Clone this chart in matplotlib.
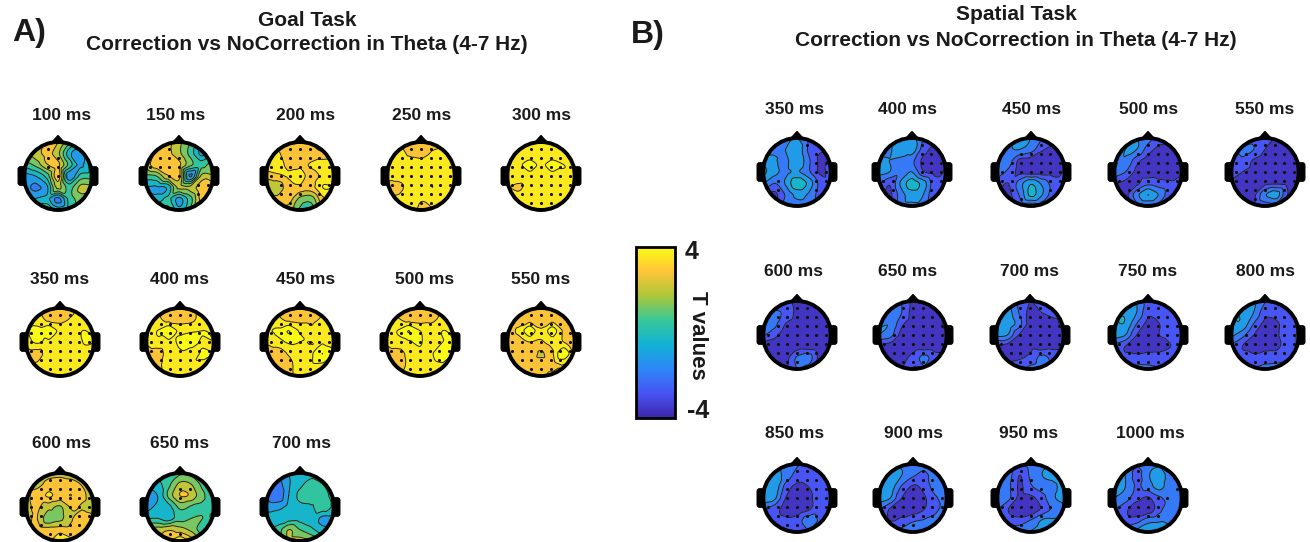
# plot.py
# Topographic T value maps for the goal task and the spatial task.

import numpy as np
import matplotlib
matplotlib.use('Agg')
import matplotlib.pyplot as plt
import matplotlib.tri as mtri
from matplotlib.cm import ScalarMappable
from matplotlib.colors import LinearSegmentedColormap, Normalize
from matplotlib.patches import Circle, FancyBboxPatch, Polygon

plt.rcParams['font.family'] = ['Liberation Sans', 'DejaVu Sans']
plt.rcParams['font.weight'] = 'bold'

W, H = 1310, 542

# T values on a 7x7 grid, top row first, left to right.
goal_100 = [[.5,1.8,2.6,2.4,1,.5,.5],[1.2,2,2.6,1.8,-.5,-1.4,.2],[.3,1,2.3,2.6,.5,-1,.5],[-1.2,-.8,.3,2.8,-1.4,.3,.5],[-1.2,-1.8,-1,1.8,.5,1.8,1.8],[-1,-.8,-.6,-1.8,.3,1.2,1.4],[-.3,-.2,1,-.3,.3,.5,.5]]
goal_150 = [[1.2,2.4,2.6,1.8,.8,.3,0],[1.2,2.7,2.6,1.8,.5,-1,-.2],[1.8,2.9,2.6,2.6,1,.5,1.2],[.5,.8,2.3,2.6,-1.7,1.8,1.8],[-.8,-.9,-.6,1.8,1.8,2.9,2.9],[-.6,-.5,.2,-1,.5,2.7,2.6],[-.2,.5,1.2,-.6,.8,1.8,1.8]]
goal_200 = [[2.7,2.7,2.8,2.7,2.4,2.2,2.2],[3.4,3.4,2.5,2.9,2.6,2.5,2.5],[4,3.7,2.9,3,3.3,3.7,3],[2.7,3,3.3,3.6,2.8,3.4,3.3],[1.7,1.8,2.9,3,2.9,4,4],[2.3,2.6,2.8,1.4,1.2,3,3.4],[2.7,2.7,2,.6,.3,2.2,2.7]]
goal_250 = [[3.2,3.2,2.8,2.7,2.9,3.4,3.4],[3.7,3.7,3,2.8,3.3,3.4,3.4],[3.9,3.9,3.9,3.7,3.5,3.7,3.6],[3.6,3.6,3.9,3.9,3.6,3.9,3.9],[2.8,2.9,3.6,3.8,3.2,3.9,3.9],[3.4,3.4,3.8,3.3,3.7,3.9,3.9],[3.4,3.8,3.6,3,3.1,3.8,3.8]]
goal_300 = [[3.3,3.3,3.4,3.3,3.3,3.3,3.3],[3.7,3.7,3.6,3.7,3.6,3.7,3.6],[3.8,3.9,4.2,3.9,4.2,4,3.8],[3.7,3.9,3.8,3.9,3.8,3.9,3.9],[3.3,3,3.7,3.7,3.3,3.9,3.9],[3.7,3.8,3.9,3.8,3.8,3.9,3.8],[3.7,3.8,3.6,3.1,3.6,3.8,3.8]]
goal_350 = [[3.3,3.3,2.9,2.8,3,3.3,3.3],[3.7,3.6,3,2.9,3.3,3.6,3.7],[3.9,4.2,4.7,3.8,3.9,4,3.9],[3.7,4.1,3.8,4,3.7,4,4],[2.8,2.9,3.6,3.8,3.8,3.9,3.9],[2.9,3.3,3.7,3.7,3.6,3.8,3.9],[3.3,3.3,3.4,3.3,3.7,3.8,3.8]]
goal_400 = [[3.3,3.3,2.8,2.7,2.9,3.5,3.3],[3.6,3.4,2.9,2.8,3,3.6,3.7],[3.8,4,4.7,3.8,3.9,4,3.9],[3.3,3.8,3.8,4.1,4.3,3.9,4],[2.8,2.8,3.6,3.9,3.7,4.1,4],[2.9,3,3.6,3.6,3.9,3.9,3.9],[3.3,3.3,3.4,3.3,3.8,3.9,3.8]]
goal_450 = [[3,3,2.8,2.7,2.8,3,3.3],[3.6,3.4,3,2.9,3,3.3,3.3],[3.9,4.1,4.8,3.9,3.4,3.8,3.9],[3.3,3.7,4.1,4,4,3.9,3.9],[2.7,2.7,3.3,3.7,3.9,4.8,4],[2.7,2.8,3,3.6,3.9,3.9,3.9],[2.9,2.9,3,3.6,3.9,3.9,3.8]]
goal_500 = [[3,2.9,2.8,2.7,2.8,2.9,3.3],[3.4,3.3,2.9,2.8,3,3.4,3.3],[3.7,4,4.8,4,3.6,4,3.8],[3.3,3.7,3.9,4.1,3.4,4,4],[2.9,2.9,3.4,3.8,3.9,4.6,3.9],[3,3,3.3,3.7,3.7,3.9,3.8],[3.3,3.3,3.4,3.6,3.9,3.8,3.7]]
goal_550 = [[2.7,2.7,2.6,2.6,2.7,2.7,2.8],[2.9,2.8,2.8,2.6,2.9,2.8,2.8],[3,3.3,4.6,3.3,4.4,3.1,2.9],[2.8,2.9,3.2,3.1,3.5,3.2,3],[2.7,2.7,2.9,2.3,3.1,4.7,3],[2.8,2.8,2.9,2.8,2.9,3.2,3],[2.9,2.9,3.2,2.9,3.4,3.1,3]]
goal_600 = [[2,2,2.2,2.2,2,1.8,1.5],[2,2.2,2.6,2.7,2.7,2.3,1.6],[2.2,2.7,3.3,2.9,3.2,2.6,1.8],[2.2,2.5,1.9,1.5,2.5,2.3,2],[2.2,2.4,1,1.4,2.3,2.9,2.5],[2.3,2.7,2.7,2.8,2.7,2.7,2.4],[2.5,2.5,3,4.2,3.4,2.8,2.4]]
goal_650 = [[0,.2,.4,.6,.5,.3,.2],[-.6,-.3,.6,1.8,1.6,.6,.3],[-1.5,-.8,1,2.4,2.2,.9,.5],[-1.2,-.6,-.3,1,.7,.7,.7],[-.1,0,-.4,.5,.8,.8,.8],[1.5,2,2.3,2,1.4,.3,.3],[2,2.5,3,4,3,2,1.2]]
goal_700 = [[-1.5,-1.5,-.8,-.6,-.3,-.2,-.3],[-1.6,-2,-.9,-.2,.3,0,-.3],[-1.7,-2.3,-.8,.2,.6,.2,-.2],[-1,-1,-.6,-.2,-.1,.5,-.2],[-.6,-.5,-.4,-.3,-.3,-1,-1.1],[-.3,.3,1.6,.8,.2,-.5,-.6],[0,1,1.8,2,1.6,.6,0]]

spatial_350 = [[-2,-1.8,-1.8,-1.6,-2.4,-2.8,-2.8],[-1.8,-1.7,-1.6,-1,-2.5,-3.1,-3.1],[-1.2,-1.5,-1.8,-.9,-2.2,-3.3,-3.1],[-.6,-1.3,-1.8,-1.5,-2.2,-3.3,-2.9],[-1.6,-2.4,-1.5,-.2,-1,-2.6,-3],[-3.1,-3.4,-2.3,-1.4,-1.7,-2.7,-2.9],[-2.8,-2.9,-2,-1.8,-1.9,-2.5,-2.7]]
spatial_400 = [[-2,-1.8,-1.3,-1.2,-2.4,-3.1,-3.1],[-1.8,-1.7,-1.2,-1.1,-2.8,-3.4,-3.4],[-1.4,-1.6,-1.8,-2.2,-3.4,-3.6,-3.4],[-1.4,-1.6,-2.2,-1.6,-3.1,-3.4,-3.1],[-2.2,-3.1,-1.5,-.4,-1.2,-2.9,-2.9],[-3.1,-3.4,-2,-1.2,-1.6,-3.1,-2.9],[-2.8,-2.8,-1.9,-1.8,-1.9,-2.5,-2.7]]
spatial_450 = [[-2,-1.8,-1.6,-1.6,-2.4,-2.9,-2.9],[-1.9,-1.7,-1.6,-2,-3.1,-3.4,-3.4],[-1.7,-2,-3.4,-3.6,-3.7,-3.7,-3.4],[-1.9,-2.6,-3.4,-3.6,-3.6,-3.5,-3.1],[-2.9,-3.2,-2,-.9,-1.8,-2.8,-2.9],[-3.2,-3.4,-2.3,-.6,-1.6,-2.9,-3],[-2.9,-2.9,-3,-3.1,-3,-2.9,-2.8]]
spatial_500 = [[-2.6,-2,-1.6,-2,-2.8,-3.1,-3.1],[-2.2,-1.6,-1.6,-2.8,-3.4,-3.4,-3.4],[-1.6,-1.7,-2.9,-3.6,-3.7,-3.6,-3.4],[-1.8,-2.4,-3.4,-3.7,-3.6,-3.5,-3.3],[-3.1,-3.4,-3.4,-2.6,-2.9,-3.1,-3],[-3.1,-3.4,-1.9,-.8,-1.7,-3,-3.1],[-3,-3,-2.8,-2.7,-2.9,-3.1,-3]]
spatial_550 = [[-3,-2.8,-2.6,-3,-3.2,-3.4,-3.4],[-2.9,-2.1,-2.4,-3.2,-3.6,-3.6,-3.5],[-2.6,-2.6,-3.3,-3.7,-3.7,-3.6,-3.4],[-2.8,-3.2,-3.5,-3.7,-3.7,-3.6,-3.4],[-3.3,-3.5,-3.6,-3.4,-3.3,-3.4,-3.3],[-3.4,-3.5,-3.4,-1.7,-1.2,-3.2,-3.4],[-3.4,-3.4,-3.4,-3,-2.9,-3.3,-3.4]]
spatial_600 = [[-3.2,-3.2,-2.7,-3.5,-3.4,-3.4,-3.4],[-2.9,-2.3,-2.6,-3.4,-3.5,-3.5,-3.4],[-2,-2.2,-3.2,-3.6,-3.6,-3.6,-3.5],[-2.3,-2.9,-3.7,-3.8,-3.7,-3.7,-3.6],[-3.6,-3.8,-3.7,-3.6,-3.6,-3.7,-3.6],[-3.6,-3.7,-3.5,-2.3,-2,-3.4,-3.5],[-3.4,-3.4,-3.4,-2.4,-2.7,-3.4,-3.4]]
spatial_650 = [[-2.6,-2,-2.4,-3.4,-3.4,-3.4,-3.2],[-2.1,-1.8,-2.4,-3.5,-3.5,-3.4,-3],[-1.7,-1.7,-3,-3.6,-3.6,-3.5,-2.9],[-1.7,-2.1,-3.5,-3.7,-3.7,-3.6,-3.2],[-3.4,-3.6,-3.7,-3.6,-3.6,-3.6,-3.5],[-3.5,-3.6,-3.5,-2.9,-2.2,-2.9,-3.4],[-3.4,-3.4,-3.2,-2.3,-2.5,-3.2,-3.4]]
spatial_700 = [[-1.6,-1.5,-2.7,-3.2,-2.9,-2.9,-2.9],[-1.3,-1.2,-2.4,-3.4,-3.2,-3,-2.9],[-1,-1,-2,-3.5,-3.4,-3.4,-3],[-1.4,-1.6,-3.2,-3.4,-3.4,-3.4,-3.2],[-3.3,-3.5,-3.5,-3.4,-3.6,-3.4,-3.4],[-3.4,-3.4,-3.3,-3,-2.2,-2.6,-2.9],[-2.9,-2.9,-2.6,-2.1,-2,-2.5,-2.8]]
spatial_750 = [[-1.3,-1.2,-1.6,-2.7,-2.7,-2.8,-2.8],[-1,-.9,-1.6,-3,-2.9,-2.7,-2.7],[-.9,-.9,-2.4,-3.4,-3.2,-2.9,-2.7],[-1.2,-1.6,-3.2,-3.3,-3.2,-3,-2.7],[-2.7,-3.2,-3.4,-3.4,-3.4,-3.2,-2.9],[-2.9,-3,-3,-2.9,-2.9,-2.8,-2.8],[-2.7,-2.7,-2.1,-2.1,-2.3,-2.7,-2.7]]
spatial_800 = [[-1.2,-1.1,-1.4,-2.3,-2.5,-2.5,-2.5],[-.9,-.9,-1.6,-2.9,-2.9,-2.7,-2.3],[-.9,-1,-2.4,-3.4,-3.3,-2.8,-2.3],[-1.4,-2.1,-3.2,-3.4,-3.3,-2.7,-2.3],[-2.5,-3.2,-3.4,-3.4,-3.4,-2.7,-2.3],[-2.5,-2.8,-3,-2.8,-2.7,-2.5,-2.3],[-2.3,-2.3,-2.3,-2.1,-2.1,-2.3,-2.3]]
spatial_850 = [[-1.5,-1.5,-1.9,-2.3,-2.7,-2.5,-2.5],[-1.1,-1.2,-1.9,-2.7,-2.8,-2.7,-2.3],[-.9,-1,-2.7,-3.4,-3.2,-2.8,-2.5],[-1.1,-1.4,-3.2,-3.7,-3.4,-2.8,-2.5],[-2.3,-2.9,-3.4,-3.7,-3.3,-2.7,-2.5],[-2.3,-2.9,-3,-2.8,-1.9,-2.5,-2.5],[-2.3,-2.3,-2.5,-2.7,-2.5,-2.5,-2.3]]
spatial_900 = [[-1.7,-1.6,-1.7,-2,-2.3,-2.3,-2.3],[-1.4,-1.3,-1.6,-2.3,-2.5,-2.2,-2],[-1.1,-1.2,-2.5,-3.3,-2.9,-2,-1.7],[-1.2,-1.6,-3.2,-3.6,-3.3,-2.5,-2],[-2.3,-3.3,-3.4,-3.6,-3.2,-2.5,-2.2],[-2.5,-3.2,-3,-2.5,-2.3,-2.2,-2],[-2,-2,-2,-1.7,-1.7,-1.9,-1.9]]
spatial_950 = [[-1.7,-1.8,-2.5,-2,-1.7,-1.6,-1.6],[-1.7,-2,-3.2,-2.2,-1.6,-1.5,-1.5],[-1.6,-2.2,-3.3,-2.5,-2,-1.7,-1.4],[-1.8,-2.2,-3.4,-3.4,-2.7,-1.7,-1.3],[-2.3,-3.2,-3.8,-3.8,-3,-2.2,-1.8],[-2.2,-2.7,-2.8,-2.3,-1.5,-1.5,-1.8],[-1.8,-1.8,-1.8,-1.5,-1.2,-1.4,-1.6]]
spatial_1000 = [[-1.6,-1.6,-2.3,-1.8,-1.7,-1.8,-1.8],[-1.6,-1.6,-2.7,-1.7,-1.2,-2,-2],[-1.4,-1.6,-2.5,-2,-1.3,-2.2,-2.2],[-1.6,-2,-2.9,-3.3,-2.5,-2.2,-2.2],[-2.3,-3,-3.7,-3.7,-2.7,-1.7,-2.2],[-2.7,-2.9,-2.7,-1.9,-1.7,-1.8,-2],[-1.9,-2.2,-1.3,-.9,-.9,-1.4,-1.8]]

goal_times = [100, 150, 200, 250, 300, 350, 400, 450, 500, 550, 600, 650, 700]
goal_maps = [goal_100, goal_150, goal_200, goal_250, goal_300, goal_350, goal_400,
             goal_450, goal_500, goal_550, goal_600, goal_650, goal_700]
spatial_times = [350, 400, 450, 500, 550, 600, 650, 700, 750, 800, 850, 900, 950, 1000]
spatial_maps = [spatial_350, spatial_400, spatial_450, spatial_500, spatial_550,
                spatial_600, spatial_650, spatial_700, spatial_750, spatial_800,
                spatial_850, spatial_900, spatial_950, spatial_1000]

# Pixel layout: head centres and label centres for each panel.
goal_head_x = [58, 179, 300, 421, 541, 60, 180, 300, 420, 541, 60, 180, 300]
goal_head_y = [176] * 5 + [342] * 5 + [507] * 3
goal_label_x = [62, 176, 306, 422, 541, 60, 180, 306, 425, 541, 62, 180, 302]
goal_label_y = [115] * 5 + [279] * 5 + [444] * 3
spatial_head_x = [797, 912, 1031, 1148, 1265, 797, 913, 1030, 1148, 1265, 797, 913, 1031, 1148]
spatial_head_y = [172] * 5 + [335] * 5 + [498] * 4
spatial_label_x = [795, 908, 1032, 1149, 1265, 794, 908, 1029, 1148, 1265, 795, 913, 1029, 1150]
spatial_label_y = [110] * 5 + [271] * 5 + [433] * 4

# Parula colour map.
parula = LinearSegmentedColormap.from_list('parula', [
    (0.2422, 0.1504, 0.6603), (0.2810, 0.3228, 0.9578), (0.1786, 0.5289, 0.9682),
    (0.0689, 0.6948, 0.8394), (0.2161, 0.7843, 0.5923), (0.6720, 0.7793, 0.2227),
    (0.9970, 0.7659, 0.2199), (0.9769, 0.9839, 0.0805)])
norm = Normalize(-4, 4)
levels = np.arange(-5.6, 5.61, 0.8)

# Grid of the read values, and a fine grid for the cubic interpolation.
grid_x, grid_y = np.meshgrid(np.linspace(-1, 1, 7), np.linspace(1, -1, 7))
tri_grid = mtri.Triangulation(grid_x.ravel(), grid_y.ravel())
fine_x, fine_y = np.meshgrid(np.linspace(-1, 1, 130), np.linspace(-1, 1, 130))

# Electrode layout.
el_x, el_y = np.meshgrid(np.linspace(-0.84, 0.84, 7), np.linspace(-0.78, 0.78, 7))
inside = el_x**2 + el_y**2 < 0.88**2
el_x, el_y = el_x[inside], el_y[inside]

fig = plt.figure(figsize=(W / 100, H / 100), dpi=100)


def draw_head(values, cx, cy, threshold):
    # Axes of 100 px across with the head radius at 34 px.
    ax = fig.add_axes([(cx - 50) / W, 1 - (cy + 50) / H, 100 / W, 100 / H])
    ax.set_xlim(-50 / 34, 50 / 34)
    ax.set_ylim(-50 / 34, 50 / 34)
    ax.axis('off')
    ax.patch.set_alpha(0)

    interp = mtri.CubicTriInterpolator(tri_grid, np.array(values, dtype=float).ravel(), kind='geom')
    fine = interp(fine_x, fine_y)
    outline = Circle((0, 0), 1, transform=ax.transData)
    filled = ax.contourf(fine_x, fine_y, fine, levels=levels, cmap=parula, norm=norm, extend='both')
    filled.set_clip_path(outline)
    lines = ax.contour(fine_x, fine_y, fine, levels=levels, colors='#2a2410',
                       linewidths=0.7, linestyles='solid')
    lines.set_clip_path(outline)

    # Electrodes where the T value passes the threshold.
    el_t = interp(el_x, el_y)
    sig = el_t >= threshold if threshold > 0 else el_t <= threshold
    ax.scatter(el_x[sig], el_y[sig], s=5, color='#15100c', linewidths=0, zorder=3)

    ax.add_patch(Circle((0, 0), 1, fill=False, edgecolor='black', linewidth=2.8, zorder=4))
    ax.add_patch(Polygon([(-0.2, 0.97), (0, 1.19), (0.2, 0.97)], closed=True, color='black', zorder=3))
    for side in [-1, 1]:
        ax.add_patch(FancyBboxPatch((side * 1.06 - 0.11, -0.27), 0.22, 0.54,
                                    boxstyle='round,pad=0,rounding_size=0.07',
                                    color='black', zorder=3))


def add_text(x, y, s, size, **kw):
    fig.text(x / W, 1 - y / H, s, ha='center', va='center', fontsize=size,
             color='#1a1a1a', fontweight='bold', **kw)


for t, vals, hx, hy, lx, ly in zip(goal_times, goal_maps, goal_head_x, goal_head_y, goal_label_x, goal_label_y):
    draw_head(vals, hx, hy, 2.1)
    add_text(lx, ly, f'{t} ms', 12.5)

for t, vals, hx, hy, lx, ly in zip(spatial_times, spatial_maps, spatial_head_x, spatial_head_y, spatial_label_x, spatial_label_y):
    draw_head(vals, hx, hy, -2.2)
    add_text(lx, ly, f'{t} ms', 12.5)

# Panel titles.
add_text(307, 20, 'Goal Task', 15)
add_text(307, 45, 'Correction vs NoCorrection in Theta (4-7 Hz)', 15)
add_text(1016, 15, 'Spatial Task', 15)
add_text(1016, 41, 'Correction vs NoCorrection in Theta (4-7 Hz)', 15)
add_text(29, 33, 'A)', 23)
add_text(648, 35, 'B)', 23)

# Colour bar.
cax = fig.add_axes([636 / W, 1 - 418 / H, 39 / W, 171 / H])
cbar = fig.colorbar(ScalarMappable(norm=norm, cmap=parula), cax=cax)
cbar.set_ticks([])
cbar.outline.set_linewidth(2)
add_text(692, 252, '4', 18)
add_text(698, 411, '-4', 18)
add_text(697, 335, 'T values', 16, rotation=270)

fig.savefig('out.png', dpi=100)
